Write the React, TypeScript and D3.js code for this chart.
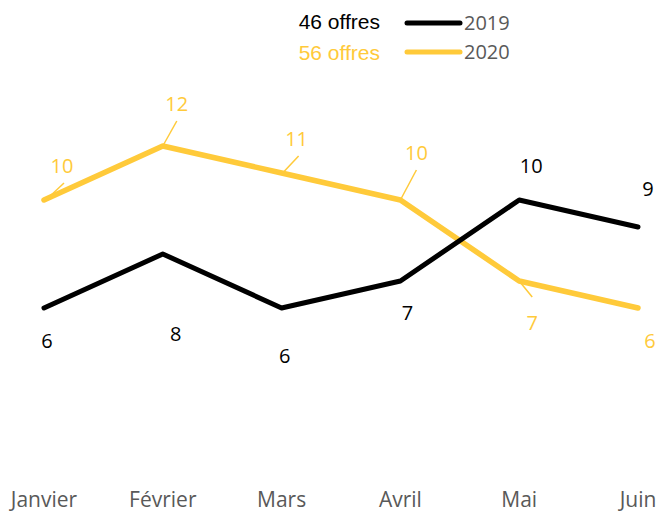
import React from "react";
import * as d3 from "d3";

const months = ["Janvier", "Février", "Mars", "Avril", "Mai", "Juin"];
const values2019 = [6, 8, 6, 7, 10, 9];
const values2020 = [10, 12, 11, 10, 7, 6];
const seriesNames = ["2019", "2020"];
const totals = ["46 offres", "56 offres"];

// label offsets relative to point (dx, dy baseline) and leader line end
const labelOffsets2019 = [
  [3, 40], [13, 87], [3, 55], [7, 39], [12, -27], [10, -31],
];
const labelOffsets2020 = [
  [18, -27], [14, -35], [15, -27], [16, -40], [13, 49], [12, 40],
];
const leaders2020: (number[] | null)[] = [
  [4, -2, 20, -17], [0, 0, 14, -25], [2, -1, 17, -17], [0, 0, 16, -30], [0, 0, 13, 16], null,
];

const W = 658;
const H = 513;
const BLACK = "#000000";
const YELLOW = "#FFCA3A";
const GRAY = "#595959";

export default function App() {
  const x = d3.scalePoint<string>().domain(months).range([44, 638]);
  const y = d3.scaleLinear().domain([0, 12]).range([470, 146]);
  const line = d3
    .line<number>()
    .x((_, i) => x(months[i]) as number)
    .y((d) => y(d));

  const labelFont = "'Open Sans', sans-serif";

  return (
    <svg
      width={W}
      height={H}
      style={{ position: "absolute", left: 0, top: 0, background: "#fff" }}
    >
      <path d={line(values2020) || ""} fill="none" stroke={YELLOW} strokeWidth={5.5} strokeLinejoin="round" strokeLinecap="round" />
      <path d={line(values2019) || ""} fill="none" stroke={BLACK} strokeWidth={5} strokeLinejoin="round" strokeLinecap="round" />

      {values2019.map((v, i) => (
        <text
          key={"l19" + i}
          x={(x(months[i]) as number) + labelOffsets2019[i][0]}
          y={y(v) + labelOffsets2019[i][1]}
          textAnchor="middle"
          fontFamily={labelFont}
          fontSize={20}
          fill={BLACK}
        >
          {v}
        </text>
      ))}
      {values2020.map((v, i) => {
        const px = x(months[i]) as number;
        const py = y(v);
        const ld = leaders2020[i];
        return (
          <g key={"l20" + i}>
            {ld && (
              <line
                x1={px + ld[0]}
                y1={py + ld[1]}
                x2={px + ld[2]}
                y2={py + ld[3]}
                stroke={YELLOW}
                strokeWidth={1.5}
              />
            )}
            <text
              x={px + labelOffsets2020[i][0]}
              y={py + labelOffsets2020[i][1]}
              textAnchor="middle"
              fontFamily={labelFont}
              fontSize={20}
              fill={YELLOW}
            >
              {v}
            </text>
          </g>
        );
      })}

      {months.map((m) => (
        <text
          key={m}
          x={x(m) as number}
          y={507}
          textAnchor="middle"
          fontFamily={labelFont}
          fontSize={21}
          fill={GRAY}
        >
          {m}
        </text>
      ))}

      {seriesNames.map((s, i) => {
        const ly = 23 + i * 29;
        const col = i === 0 ? BLACK : YELLOW;
        return (
          <g key={s}>
            <text
              x={380}
              y={ly + 6 + i * 2}
              textAnchor="end"
              fontFamily="'Liberation Sans', Arial, sans-serif"
              fontSize={21}
              fill={col}
            >
              {totals[i]}
            </text>
            <line x1={407} x2={460} y1={ly} y2={ly} stroke={col} strokeWidth={5} strokeLinecap="round" />
            <text
              x={464}
              y={ly + 7}
              fontFamily={labelFont}
              fontSize={20}
              fill={GRAY}
            >
              {s}
            </text>
          </g>
        );
      })}
    </svg>
  );
}
